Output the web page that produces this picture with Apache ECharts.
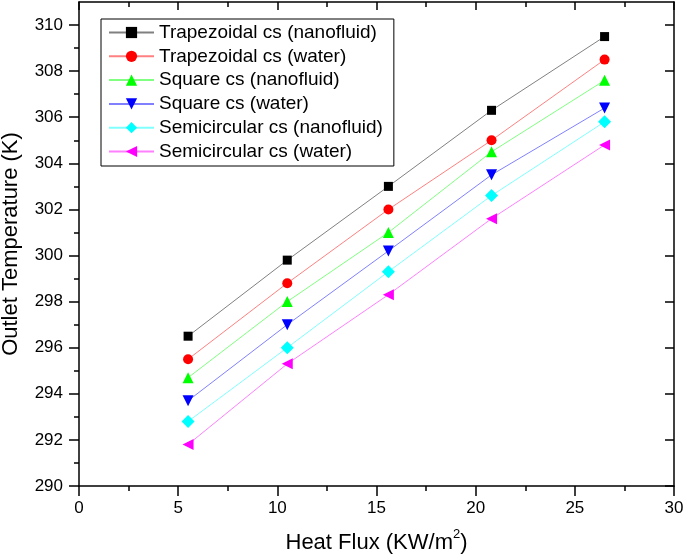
<!DOCTYPE html>
<html>
<head>
<meta charset="utf-8">
<script src="https://cdn.jsdelivr.net/npm/echarts@6/dist/echarts.min.js"></script>
<style>html,body{margin:0;padding:0;background:#fff;}#c{width:685px;height:554px;}</style>
</head>
<body>
<div id="c"></div>
<script>
const xValues = [5.5, 10.5, 15.6, 20.8, 26.5];
const trapNano = [296.5, 299.8, 303.0, 306.3, 309.5];
const trapWater = [295.5, 298.8, 302.0, 305.0, 308.5];
const sqNano = [294.7, 298.0, 301.0, 304.5, 307.6];
const sqWater = [293.7, 297.0, 300.2, 303.5, 306.4];
const semiNano = [292.8, 296.0, 299.3, 302.6, 305.8];
const semiWater = [291.8, 295.3, 298.3, 301.6, 304.8];
const seriesNames = ['Trapezoidal cs (nanofluid)', 'Trapezoidal cs (water)', 'Square cs (nanofluid)', 'Square cs (water)', 'Semicircular cs (nanofluid)', 'Semicircular cs (water)'];
const yMajorTicks = [290, 292, 294, 296, 298, 300, 302, 304, 306, 308, 310];
const yMinorTicks = [291, 293, 295, 297, 299, 301, 303, 305, 307, 309];
const xTickLabels = [0, 5, 10, 15, 20, 25, 30];

const allValues = [trapNano, trapWater, sqNano, sqWater, semiNano, semiWater];
const symColors = ['#000000', '#ff0000', '#00ff00', '#0000ff', '#00ffff', '#ff00ff'];
const lineColors = ['#808080', '#ff8080', '#80ff80', '#8080ff', '#80ffff', '#ff80ff'];
const symbols = ['rect', 'circle', 'triangle', 'triangle', 'diamond', 'triangle'];
const rotations = [0, 0, 0, 180, 0, 90];
const sizes = [9, 10, 11, 11, 13, 11];

const FONT = 'Liberation Sans, Arial, sans-serif';
const chart = echarts.init(document.getElementById('c'));

const series = allValues.map((vals, i) => ({
  name: seriesNames[i],
  type: 'line',
  xAxisIndex: 0,
  yAxisIndex: 0,
  data: xValues.map((x, j) => [x, vals[j]]),
  symbol: symbols[i],
  symbolRotate: rotations[i],
  symbolSize: sizes[i],
  showAllSymbol: true,
  lineStyle: { color: lineColors[i], width: 1 },
  itemStyle: { color: symColors[i] },
  emphasis: { disabled: true },
  z: 10 - i
}));

const yBase = { type: 'value', min: 290, max: 311, splitLine: { show: false } };
const xBase = { type: 'value', min: 0, max: 30, interval: 5, splitLine: { show: false } };

chart.setOption({
  animation: false,
  grid: { left: 79, right: 11, top: 2, bottom: 68, containLabel: false, outerBoundsMode: 'none' },
  legend: {
    orient: 'vertical',
    left: 101,
    top: 19,
    padding: [4, 11, 5, 7],
    itemGap: 4.8,
    itemWidth: 45,
    itemHeight: 14,
    borderColor: '#000',
    borderWidth: 1,
    data: seriesNames,
    textStyle: { fontFamily: FONT, fontSize: 19, color: '#000' }
  },
  xAxis: [
    Object.assign({}, xBase, {
      position: 'bottom',
      name: '{a|Heat Flux (KW/m}{s|2}{a|)}',
      nameLocation: 'middle',
      nameGap: 42,
      nameTextStyle: {
        fontFamily: FONT, fontSize: 22, color: '#000',
        rich: {
          a: { fontFamily: FONT, fontSize: 22, color: '#000', verticalAlign: 'bottom', lineHeight: 26 },
          s: { fontFamily: FONT, fontSize: 13, color: '#000', verticalAlign: 'top', lineHeight: 26 }
        }
      },
      axisLine: { show: true, onZero: false, lineStyle: { color: '#000', width: 1.5 } },
      axisTick: { show: true, inside: false, length: 10, lineStyle: { color: '#000', width: 1.5 } },
      minorTick: { show: true, splitNumber: 2, length: 5, lineStyle: { color: '#000', width: 1.5 } },
      axisLabel: { fontFamily: FONT, fontSize: 17, color: '#000', margin: 14,
        customValues: xTickLabels }
    }),
    Object.assign({}, xBase, {
      position: 'top',
      axisLine: { show: true, onZero: false, lineStyle: { color: '#000', width: 1.5 } },
      axisTick: { show: true, inside: true, length: 8, lineStyle: { color: '#000', width: 1.5 } },
      minorTick: { show: true, splitNumber: 2, length: 5, lineStyle: { color: '#000', width: 1.5 } },
      axisLabel: { show: false }
    })
  ],
  yAxis: [
    Object.assign({}, yBase, {
      position: 'left',
      name: 'Outlet Temperature (K)',
      nameLocation: 'middle',
      nameGap: 57,
      nameTextStyle: { fontFamily: FONT, fontSize: 22, color: '#000' },
      axisLine: { show: true, onZero: false, lineStyle: { color: '#000', width: 1.5 } },
      axisTick: { show: true, inside: false, length: 10, customValues: yMajorTicks, lineStyle: { color: '#000', width: 1.5 } },
      axisLabel: { fontFamily: FONT, fontSize: 17, color: '#000', margin: 16, customValues: yMajorTicks }
    }),
    Object.assign({}, yBase, {
      position: 'left',
      axisLine: { show: false },
      axisTick: { show: true, inside: false, length: 5, customValues: yMinorTicks, lineStyle: { color: '#000', width: 1.5 } },
      axisLabel: { show: false }
    }),
    Object.assign({}, yBase, {
      position: 'right',
      axisLine: { show: true, onZero: false, lineStyle: { color: '#000', width: 1.5 } },
      axisTick: { show: true, inside: true, length: 9, customValues: yMajorTicks, lineStyle: { color: '#000', width: 1.5 } },
      axisLabel: { show: false }
    }),
    Object.assign({}, yBase, {
      position: 'right',
      axisLine: { show: false },
      axisTick: { show: true, inside: true, length: 5, customValues: yMinorTicks, lineStyle: { color: '#000', width: 1.5 } },
      axisLabel: { show: false }
    })
  ],
  series: series
});
</script>
</body>
</html>
